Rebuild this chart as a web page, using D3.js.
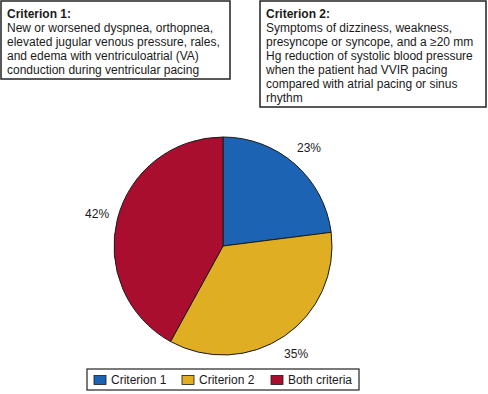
<!DOCTYPE html>
<html><head><meta charset="utf-8">
<script src="https://cdn.jsdelivr.net/npm/d3@7"></script>
<style>
html,body{margin:0;padding:0;background:#fff;}
svg{display:block;font-family:"Liberation Sans",Arial,Helvetica,sans-serif;}
</style></head>
<body>
<svg id="chart" width="488" height="394"></svg>
<script>
const categories = ["Criterion 1", "Criterion 2", "Both criteria"];
const values = [23, 35, 42];
const colors = ["#1c63b3", "#e0ae22", "#aa0e2e"];
const box1Title = "Criterion 1:";
const box1Lines = ["New or worsened dyspnea, orthopnea,", "elevated jugular venous pressure, rales,", "and edema with ventriculoatrial (VA)", "conduction during ventricular pacing"];
const box2Title = "Criterion 2:";
const box2Lines = ["Symptoms of dizziness, weakness,", "presyncope or syncope, and a \u226520 mm", "Hg reduction of systolic blood pressure", "when the patient had VVIR pacing", "compared with atrial pacing or sinus", "rhythm"];

const svg = d3.select("#chart");
const fs = 12, lh = 14;

function drawBox(x, y, w, h, title, lines) {
  const g = svg.append("g");
  g.append("rect").attr("x", x).attr("y", y).attr("width", w).attr("height", h)
    .attr("fill", "#fff").attr("stroke", "#222").attr("stroke-width", 1.5);
  const t = g.append("text").attr("font-size", fs).attr("fill", "#1a1a1a");
  t.append("tspan").attr("x", x + 6).attr("y", y + 17).attr("font-weight", "bold").text(title);
  lines.forEach((l, i) => t.append("tspan").attr("x", x + 6).attr("y", y + 17 + (i + 1) * lh).text(l));
}
drawBox(1, 1, 229, 78, box1Title, box1Lines);
drawBox(260, 1, 226, 106, box2Title, box2Lines);

const cx = 223, cy = 246, r = 109;
const pie = d3.pie().sort(null).value(d => d)(values);
const arc = d3.arc().innerRadius(0).outerRadius(r);
const labelArc = d3.arc().innerRadius(130).outerRadius(130);
const pg = svg.append("g").attr("transform", `translate(${cx},${cy})`);
pg.selectAll("path").data(pie).join("path")
  .attr("d", arc).attr("fill", (d, i) => colors[i])
  .attr("stroke", "#1a1a1a").attr("stroke-width", 1);
pg.selectAll("text").data(pie).join("text")
  .attr("transform", d => `translate(${labelArc.centroid(d)})`)
  .attr("text-anchor", "middle").attr("dominant-baseline", "central")
  .attr("font-size", fs).attr("fill", "#1a1a1a")
  .text(d => d.data + "%");

// legend
const lg = svg.append("g");
lg.append("rect").attr("x", 87).attr("y", 369).attr("width", 272).attr("height", 21)
  .attr("fill", "#fff").attr("stroke", "#222").attr("stroke-width", 1.2);
const itemX = [94, 182, 271];
categories.forEach((c, i) => {
  lg.append("rect").attr("x", itemX[i]).attr("y", 375.5).attr("width", 12).attr("height", 9)
    .attr("fill", colors[i]).attr("stroke", "#1a1a1a").attr("stroke-width", 0.8);
  lg.append("text").attr("x", itemX[i] + 17).attr("y", 384)
    .attr("font-size", fs).attr("fill", "#1a1a1a").text(c);
});
</script>
</body></html>
